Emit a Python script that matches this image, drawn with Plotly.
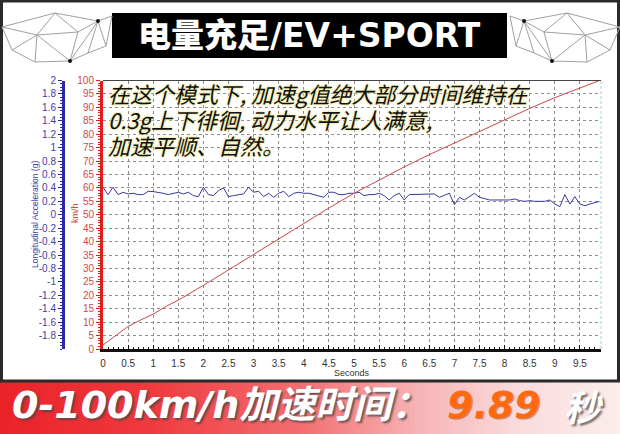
import numpy as np
import plotly.graph_objects as go

W, H = 620, 434

# ---------------- data ----------------
speed_time = [0, 0.25, 0.5, 0.75, 1.0, 1.25, 1.5, 2.0, 2.5, 3.0, 3.5, 4.0, 4.5, 5.0,
              5.5, 6.0, 6.5, 7.0, 7.5, 8.0, 8.5, 9.0, 9.5, 9.89]
speed_kmh = [1.5, 5.0, 8.4, 10.8, 13.0, 15.8, 18.2, 23.7, 29.5, 35.3, 41.1, 47.0, 52.5, 58.0,
             63.0, 67.8, 72.4, 76.8, 81.0, 85.3, 89.6, 93.6, 97.2, 100.0]

accel_g = [0.41, 0.30, 0.41, 0.30, 0.335, 0.31, 0.32, 0.30, 0.30, 0.35,
           0.345, 0.335, 0.32, 0.30, 0.32, 0.335, 0.31, 0.335, 0.285, 0.27,
           0.41, 0.30, 0.285, 0.36, 0.40, 0.27, 0.285, 0.30, 0.31, 0.41,
           0.335, 0.35, 0.27, 0.32, 0.26, 0.32, 0.35, 0.27, 0.32, 0.335,
           0.32, 0.32, 0.30, 0.27, 0.26, 0.335, 0.335, 0.30, 0.30, 0.32,
           0.32, 0.335, 0.285, 0.30, 0.30, 0.32, 0.285, 0.22, 0.285, 0.32,
           0.22, 0.30, 0.30, 0.30, 0.30, 0.30, 0.31, 0.26, 0.285, 0.32,
           0.15, 0.26, 0.22, 0.27, 0.32, 0.26, 0.235, 0.22, 0.22, 0.22,
           0.21, 0.22, 0.235, 0.21, 0.20, 0.21, 0.20, 0.20, 0.20, 0.22,
           0.16, 0.12, 0.30, 0.16, 0.27, 0.16, 0.135, 0.16, 0.185, 0.20]
accel_time = list(np.round(np.arange(len(accel_g) - 1) * 0.1, 1)) + [9.89]

g_tickvals = [2, 1.8, 1.6, 1.4, 1.2, 1, 0.8, 0.6, 0.4, 0.2, 0, -0.2, -0.4, -0.6,
              -0.8, -1, -1.2, -1.4, -1.6, -1.8]
g_ticktext = [str(v) for v in g_tickvals]

title_text = "电量充足/EV+SPORT"
note_lines = ["在这个模式下, 加速g值绝大部分时间维持在",
              "0.3g上下徘徊, 动力水平让人满意,",
              "加速平顺、自然。"]
result_label = "0-100km/h加速时间："
result_value = "9.89"
result_unit = "秒"
g_axis_title = "Longitudinal Acceleration (g)"
speed_axis_title = "km/h"
time_axis_title = "Seconds"

# ---------------- helpers ----------------
def PX(x):
    return x / W

def PY(y):
    return 1 - y / H

BLUE = "#2a2aa8"
BLUE_TXT = "#4040a8"
RED = "#e01e1e"
RED_TXT = "#d04848"

fig = go.Figure()

fig.add_trace(go.Scatter(x=speed_time, y=speed_kmh, yaxis="y2", mode="lines",
                         line=dict(color="#c84848", width=1), showlegend=False,
                         hoverinfo="skip"))
fig.add_trace(go.Scatter(x=accel_time, y=accel_g, yaxis="y", mode="lines",
                         line=dict(color="#3838a0", width=1), showlegend=False,
                         hoverinfo="skip"))

shapes = []

# bottom gradient banner
stops = [(0, (234, 34, 40)), (150, (239, 58, 62)), (300, (243, 110, 112)),
         (420, (247, 180, 182)), (520, (250, 220, 221)), (620, (252, 236, 236))]
def grad(x):
    for (x0, c0), (x1, c1) in zip(stops[:-1], stops[1:]):
        if x0 <= x <= x1:
            f = (x - x0) / (x1 - x0)
            return tuple(int(round(a + (b - a) * f)) for a, b in zip(c0, c1))
    return stops[-1][1]

step = 5
for x in range(0, W, step):
    r, g, b = grad(x + step / 2)
    shapes.append(dict(type="rect", xref="paper", yref="paper",
                       x0=PX(x), x1=PX(x + step + 0.6), y0=PY(H), y1=PY(382),
                       line=dict(width=0), fillcolor=f"rgb({r},{g},{b})", layer="above"))

# outer dark frame around the white panel
shapes.append(dict(type="rect", xref="paper", yref="paper",
                   x0=PX(1.5), x1=PX(618.5), y0=PY(381), y1=PY(1),
                   line=dict(color="#2a2a2a", width=3), fillcolor="rgba(0,0,0,0)", layer="above"))

# header black box
shapes.append(dict(type="rect", xref="paper", yref="paper",
                   x0=PX(112), x1=PX(507), y0=PY(58), y1=PY(13),
                   line=dict(width=0), fillcolor="#000000", layer="above"))

# wireframe decorations
pts = {0: (2, 27), 1: (55, 13), 2: (37, 35), 3: (98, 21), 4: (35, 62), 5: (70, 61),
       6: (106, 46), 7: (78, 32), 8: (12, 50), 9: (88, 53), 10: (112, 16)}
edges = [(0, 1), (1, 2), (0, 2), (2, 8), (8, 4), (2, 4), (1, 7), (7, 3), (1, 3), (3, 10),
         (3, 5), (7, 5), (2, 7), (4, 5), (5, 9), (9, 6), (3, 6), (6, 10), (3, 9), (0, 8), (2, 5)]
for side in (0, 1):
    for a, b in edges:
        xa, ya = pts[a]
        xb, yb = pts[b]
        if side:
            xa, xb = 622 - xa, 622 - xb
        shapes.append(dict(type="line", xref="paper", yref="paper",
                           x0=PX(xa), y0=PY(ya), x1=PX(xb), y1=PY(yb),
                           line=dict(color="#a0a0a0", width=1), layer="above"))
    for k in (3, 5):
        x, y = pts[k]
        if side:
            x = 622 - x
        shapes.append(dict(type="circle", xref="paper", yref="paper",
                           x0=PX(x - 2), x1=PX(x + 2), y0=PY(y + 2), y1=PY(y - 2),
                           line=dict(width=0), fillcolor="#111", layer="above"))

# plot top border and right border
shapes.append(dict(type="line", xref="paper", yref="paper",
                   x0=PX(103), x1=PX(601), y0=PY(80.5), y1=PY(80.5),
                   line=dict(color="#444", width=1)))
shapes.append(dict(type="line", xref="paper", yref="paper",
                   x0=PX(601), x1=PX(601), y0=PY(349), y1=PY(80.5),
                   line=dict(color="#9fd4cc", width=1, dash="3px,2px")))

annotations = []
annotations.append(dict(text=title_text, xref="paper", yref="paper",
                        x=PX(309), y=PY(36), xanchor="center", yanchor="middle",
                        showarrow=False,
                        font=dict(family="DejaVu Sans, Noto Sans CJK SC", size=33,
                                  color="white", weight=900)))

for i, line in enumerate(note_lines):
    annotations.append(dict(text=line, xref="paper", yref="paper",
                            x=PX(106), y=PY(93 + 26 * i), xanchor="left", yanchor="middle",
                            showarrow=False,
                            font=dict(family="Noto Sans CJK SC", size=22, color="#111",
                                      style="italic",
                                      shadow="0 0 3px #efeaa8, 0 0 3px #efeaa8, 0 0 2px #efeaa8")))

# axis titles placed explicitly
annotations.append(dict(text=g_axis_title, xref="paper", yref="paper",
                        x=PX(35), y=PY(215), xanchor="center", yanchor="middle",
                        textangle=-90, showarrow=False,
                        font=dict(family="Liberation Sans", size=8.5, color=BLUE_TXT)))
annotations.append(dict(text=speed_axis_title, xref="paper", yref="paper",
                        x=PX(75), y=PY(213), xanchor="center", yanchor="middle",
                        textangle=-90, showarrow=False,
                        font=dict(family="Liberation Sans", size=9, color=RED_TXT)))
annotations.append(dict(text=time_axis_title, xref="paper", yref="paper",
                        x=PX(352), y=PY(373), xanchor="center", yanchor="middle",
                        showarrow=False,
                        font=dict(family="Liberation Sans", size=9, color="#333")))

banner_shadow = "2px 2px 2px rgba(70,70,70,0.75)"
annotations.append(dict(text=f"<b>{result_label}</b>", xref="paper", yref="paper",
                        x=PX(10), y=PY(405), xanchor="left", yanchor="middle",
                        showarrow=False,
                        font=dict(family="DejaVu Sans, Noto Sans CJK SC", size=38,
                                  color="white", style="italic", shadow=banner_shadow)))
annotations.append(dict(text=f"<b>{result_value}</b>", xref="paper", yref="paper",
                        x=PX(445), y=PY(405), xanchor="left", yanchor="middle",
                        showarrow=False,
                        font=dict(family="DejaVu Sans", size=38,
                                  color="#ff6a10", style="italic",
                                  shadow="1px 1px 1px rgba(120,50,0,0.5)")))
annotations.append(dict(text=f"<b>{result_unit}</b>", xref="paper", yref="paper",
                        x=PX(583), y=PY(405), xanchor="center", yanchor="middle",
                        showarrow=False,
                        font=dict(family="Noto Sans CJK SC", size=36,
                                  color="white", style="italic", shadow=banner_shadow)))

ydom = [PY(349), PY(80.5)]
tickfont = "Liberation Sans"

fig.update_layout(
    width=W, height=H, autosize=False,
    margin=dict(l=0, r=0, t=0, b=0),
    paper_bgcolor="white", plot_bgcolor="white",
    showlegend=False,
    shapes=shapes, annotations=annotations,
    xaxis=dict(domain=[PX(103), PX(601)], range=[0, 9.92], tick0=0, dtick=0.5,
               showgrid=True, gridcolor="#8c8c8c", griddash="3px,3px", gridwidth=1,
               zeroline=False, showline=True, linecolor="#111", linewidth=2.5,
               ticks="inside", ticklen=4, tickcolor="#111", tickwidth=1,
               minor=dict(dtick=0.1, ticks="inside", ticklen=2, tickcolor="#111", showgrid=False),
               tickfont=dict(family=tickfont, size=10, color="#333"),
               ticklabelstandoff=3,
               automargin=False),
    yaxis=dict(domain=ydom, range=[-2, 2], anchor="free", position=PX(63), side="left",
               tickmode="array", tickvals=g_tickvals, ticktext=g_ticktext,
               showgrid=False, zeroline=False, showline=True, linecolor=BLUE, linewidth=3,
               ticks="outside", ticklen=4, tickcolor=BLUE, tickwidth=1,
               minor=dict(tickmode="linear", tick0=0, dtick=0.05, ticks="outside", ticklen=2,
                          tickcolor=BLUE, showgrid=False),
               tickfont=dict(family=tickfont, size=10, color=BLUE_TXT),
               automargin=False),
    yaxis2=dict(domain=ydom, range=[0, 100], overlaying="y", anchor="x", side="left",
                tick0=0, dtick=5,
                showgrid=True, gridcolor="#8c8c8c", griddash="3px,3px", gridwidth=1,
                zeroline=False, showline=True, linecolor=RED, linewidth=3,
                ticks="outside", ticklen=4, tickcolor=RED, tickwidth=1,
                minor=dict(dtick=1, ticks="outside", ticklen=2, tickcolor=RED, showgrid=False),
                tickfont=dict(family=tickfont, size=10, color=RED_TXT),
                automargin=False),
)

fig.write_html("out.html",
               config={"displayModeBar": False},
               post_script="document.body.style.margin='0';document.body.style.overflow='hidden';")
